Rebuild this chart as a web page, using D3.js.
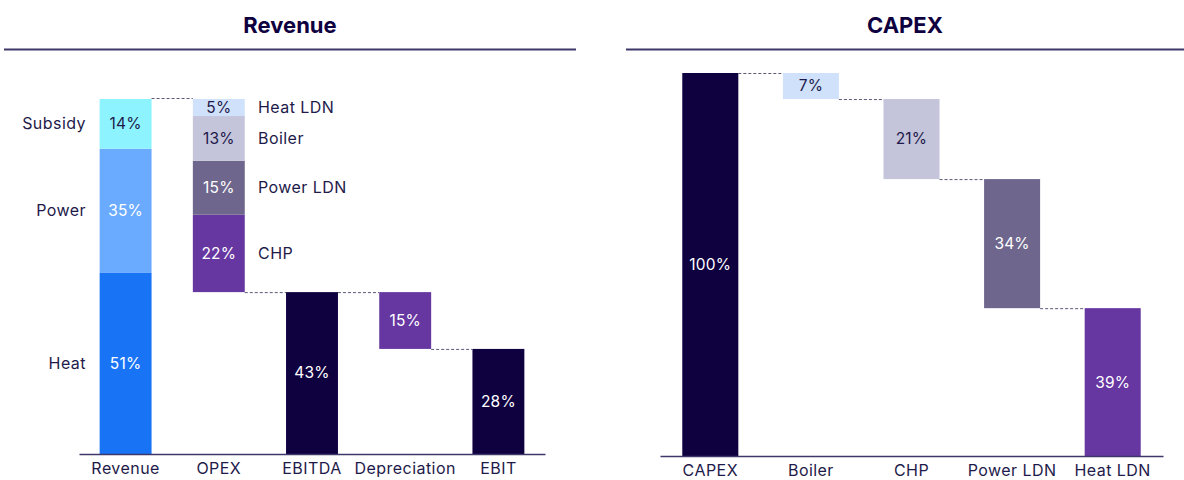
<!DOCTYPE html>
<html><head><meta charset="utf-8">
<script src="https://cdn.jsdelivr.net/npm/d3@7"></script>
<style>
html,body{margin:0;padding:0;background:#fff;}
svg{display:block;font-family:Inter,"Noto Sans",sans-serif;}
</style></head>
<body><svg id="c" width="1184" height="480"></svg>
<script>
// ---- data ----
const revCategories = ["Revenue", "OPEX", "EBITDA", "Depreciation", "EBIT"];
const revenueParts = ["Heat", "Power", "Subsidy"];
const revenueValues = [51, 35, 14];
const revenueLabels = ["51%", "35%", "14%"];
const opexParts = ["CHP", "Power LDN", "Boiler", "Heat LDN"];
const opexValues = [21.8, 15.2, 12.6, 4.8];
const opexLabels = ["22%", "15%", "13%", "5%"];
const depreciationValue = 16;
const resultLabels = ["43%", "15%", "28%"]; // EBITDA, Depreciation, EBIT

const capexCategories = ["CAPEX", "Boiler", "CHP", "Power LDN", "Heat LDN"];
const capexValues = [100, 6.8, 20.9, 33.7, 38.6];
const capexLabels = ["100%", "7%", "21%", "34%", "39%"];

// ---- styles ----
const NAVY = "#0f0040", TEXT = "#1e1a4a", DASH = "#5d5878";
const revColors = {Heat: "#1874f4", Power: "#6aabff", Subsidy: "#8df4ff"};
const revText = {Heat: "#fff", Power: "#fff", Subsidy: TEXT};
const opexColors = {"CHP": "#6636a1", "Power LDN": "#6e668c", "Boiler": "#c4c4da", "Heat LDN": "#d0e1fb"};
const opexText = {"CHP": "#fff", "Power LDN": "#fff", "Boiler": TEXT, "Heat LDN": TEXT};
const capexColors = [NAVY, "#d0e1fb", "#c4c4da", "#6e668c", "#6636a1"];
const capexText = ["#fff", TEXT, TEXT, "#fff", "#fff"];
const CAT_SIZE = 16, CAT_LS = 0.45, VAL_SIZE = 15.5;

const svg = d3.select("#c");

function header(x1, x2, title) {
  svg.append("text").attr("x", (x1 + x2) / 2).attr("y", 33).attr("text-anchor", "middle")
    .attr("font-size", 22).attr("font-weight", 700).attr("fill", NAVY).text(title);
  svg.append("line").attr("x1", x1).attr("x2", x2).attr("y1", 49.5).attr("y2", 49.5)
    .attr("stroke", "#3d3868").attr("stroke-width", 2);
}
function bar(g, x, w, y0, y1, fill) {
  g.append("rect").attr("x", x).attr("width", w).attr("y", Math.min(y0, y1))
    .attr("height", Math.abs(y1 - y0)).attr("fill", fill);
}
function label(g, x, y, txt, fill, anchor, size, ls) {
  g.append("text").attr("x", x).attr("y", y).attr("dy", "0.35em")
    .attr("text-anchor", anchor || "middle").attr("font-size", size || VAL_SIZE)
    .attr("letter-spacing", ls || 0.2)
    .attr("fill", fill).text(txt);
}
function dash(g, x1, x2, y) {
  g.append("line").attr("x1", x1).attr("x2", x2).attr("y1", y).attr("y2", y)
    .attr("stroke", DASH).attr("stroke-width", 1).attr("stroke-dasharray", "3,2");
}
function axis(g, x, h) {
  const ax = g.append("g").attr("transform", `translate(0,${h})`)
    .call(d3.axisBottom(x).tickSize(0).tickPadding(9));
  ax.select(".domain").attr("stroke", "#3d3868").attr("stroke-width", 1.5);
  ax.selectAll("text").attr("font-size", CAT_SIZE).attr("letter-spacing", CAT_LS)
    .attr("fill", TEXT).attr("font-family", "Inter,'Noto Sans',sans-serif");
}

// ---- left chart ----
header(4, 576, "Revenue");
const gL = svg.append("g");
const xL = d3.scaleBand().domain(revCategories).range([79, 545]).paddingInner(0.443).paddingOuter(0.2215);
const yL = d3.scaleLinear().domain([0, 100]).range([454, 99]);
const bwL = xL.bandwidth();

let cum = 0;
revenueParts.forEach((p, i) => {
  const a = cum, b = cum + revenueValues[i];
  bar(gL, xL("Revenue"), bwL, yL(a), yL(b), revColors[p]);
  label(gL, xL("Revenue") + bwL / 2, (yL(a) + yL(b)) / 2, revenueLabels[i], revText[p]);
  label(gL, 86, (yL(a) + yL(b)) / 2, p, TEXT, "end", CAT_SIZE, CAT_LS);
  cum = b;
});
const revTotal = cum;
const opexTotal = d3.sum(opexValues);
const ebitdaValue = revTotal - opexTotal;
cum = ebitdaValue;
opexParts.forEach((p, i) => {
  const a = cum, b = cum + opexValues[i];
  bar(gL, xL("OPEX"), bwL, yL(a), yL(b), opexColors[p]);
  label(gL, xL("OPEX") + bwL / 2, (yL(a) + yL(b)) / 2, opexLabels[i], opexText[p]);
  label(gL, 258, (yL(a) + yL(b)) / 2, p, TEXT, "start", CAT_SIZE, CAT_LS);
  cum = b;
});
bar(gL, xL("EBITDA"), bwL, yL(0), yL(ebitdaValue), NAVY);
label(gL, xL("EBITDA") + bwL / 2, (yL(0) + yL(ebitdaValue)) / 2, resultLabels[0], "#fff");
const ebitValue = ebitdaValue - depreciationValue;
bar(gL, xL("Depreciation"), bwL, yL(ebitdaValue), yL(ebitValue), "#6636a1");
label(gL, xL("Depreciation") + bwL / 2, (yL(ebitdaValue) + yL(ebitValue)) / 2, resultLabels[1], "#fff");
bar(gL, xL("EBIT"), bwL, yL(0), yL(ebitValue), NAVY);
label(gL, xL("EBIT") + bwL / 2, (yL(0) + yL(ebitValue)) / 2, resultLabels[2], "#fff");
dash(gL, xL("Revenue") + bwL, xL("OPEX"), yL(revTotal) - 0.5);
dash(gL, xL("OPEX") + bwL, xL("EBITDA"), yL(ebitdaValue) + 0.5);
dash(gL, xL("EBITDA") + bwL, xL("Depreciation"), yL(ebitdaValue) + 0.5);
dash(gL, xL("Depreciation") + bwL, xL("EBIT"), yL(ebitValue) + 0.5);
axis(gL, xL, 454);

// ---- right chart ----
header(626, 1184, "CAPEX");
const gR = svg.append("g");
const xR = d3.scaleBand().domain(capexCategories).range([660, 1163]).paddingInner(0.443).paddingOuter(0.2215);
const yR = d3.scaleLinear().domain([0, 100]).range([456, 73]);
const bwR = xR.bandwidth();
let level = capexValues[0];
const segs = [];
capexCategories.forEach((c, i) => {
  let a, b;
  if (i === 0) { a = 0; b = capexValues[0]; }
  else if (i === capexCategories.length - 1) { a = 0; b = capexValues[i]; }
  else { a = level - capexValues[i]; b = level; level = a; }
  segs.push([a, b]);
  bar(gR, xR(c), bwR, yR(a), yR(b), capexColors[i]);
  label(gR, xR(c) + bwR / 2, (yR(a) + yR(b)) / 2, capexLabels[i], capexText[i]);
});
for (let i = 0; i < capexCategories.length - 1; i++) {
  const yy = i === 0 ? segs[0][1] : segs[i][0];
  dash(gR, xR(capexCategories[i]) + bwR, xR(capexCategories[i + 1]), yR(yy) + 0.5);
}
axis(gR, xR, 456);
</script></body></html>
